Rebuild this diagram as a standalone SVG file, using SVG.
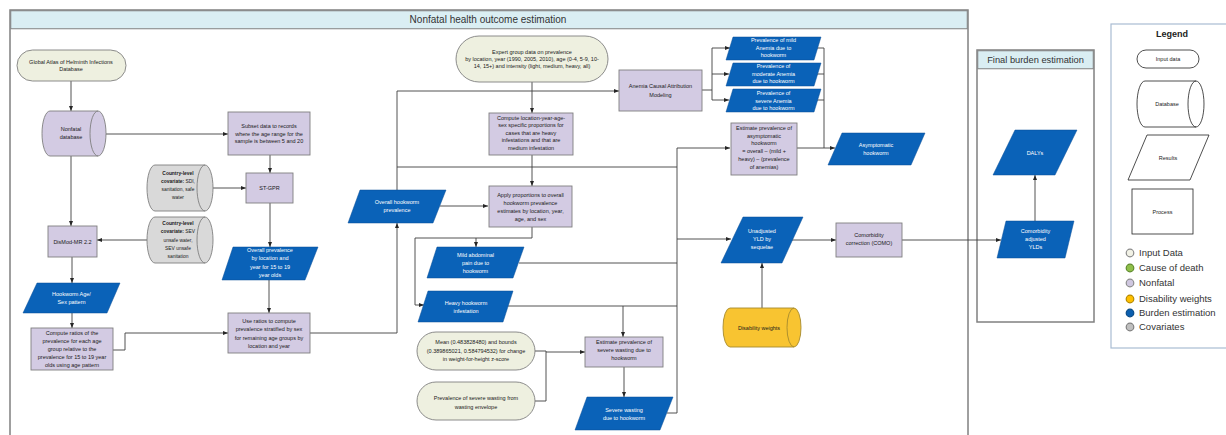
<svg xmlns="http://www.w3.org/2000/svg" width="1226" height="435" viewBox="0 0 1226 435">
<style>
.box{fill:#D3CBE3;stroke:#7F7F7F;stroke-width:0.9}
.inp{fill:#EEF0E0;stroke:#7F7F7F;stroke-width:0.9}
.cov{fill:#D9D9D9;stroke:#7F7F7F;stroke-width:0.9}
.res{fill:#0A62B8;stroke:#0B4F96;stroke-width:0.5}
.dw{fill:#F8C431;stroke:#A68A2E;stroke-width:0.9}
.leg{fill:#fff;stroke:#222;stroke-width:0.8}
.t{font-family:"Liberation Sans",Arial,sans-serif;font-size:5.5px;fill:#1a1a1a;text-anchor:middle}
.ts{font-family:"Liberation Sans",Arial,sans-serif;font-size:4.9px;fill:#1a1a1a;text-anchor:middle}
.tw{font-family:"Liberation Sans",Arial,sans-serif;font-size:5.5px;fill:#fff;text-anchor:middle}
.lt{font-family:"Liberation Sans",Arial,sans-serif;font-size:9.5px;fill:#333}
.c{fill:none;stroke:#3F3F3F;stroke-width:0.9}
</style>
<defs>
<marker id="a" viewBox="0 0 10 10" refX="10" refY="5" markerWidth="5" markerHeight="5" markerUnits="userSpaceOnUse" orient="auto"><path d="M0,1 L10,5 L0,9 z" fill="#262626"/></marker>
</defs>
<rect width="1226" height="435" fill="#fff"/>

<g id="panel-nonfatal">
<rect x="10" y="10" width="958" height="500" fill="#fff" stroke="#808080" stroke-width="1.5"/>
<rect x="10.75" y="10.75" width="956.5" height="18" fill="#DAEEF3" stroke="#808080" stroke-width="1"/>
<text x="488" y="23" style="font-family:'Liberation Sans',Arial,sans-serif;font-size:10px;fill:#333;text-anchor:middle">Nonfatal health outcome estimation</text>
</g>

<g id="panel-final">
<rect x="977" y="50" width="117" height="272" fill="#fff" stroke="#808080" stroke-width="1.5"/>
<rect x="977.75" y="50.75" width="115.5" height="18" fill="#DAEEF3" stroke="#808080" stroke-width="1"/>
<text x="1035.5" y="63" style="font-family:'Liberation Sans',Arial,sans-serif;font-size:9.3px;fill:#333;text-anchor:middle">Final burden estimation</text>
</g>

<g id="connectors">
<path class="c" d="M71,81 V111" marker-end="url(#a)"/>
<path class="c" d="M106,134 H228" marker-end="url(#a)"/>
<path class="c" d="M71,156 V226" marker-end="url(#a)"/>
<path class="c" d="M270,155 V173" marker-end="url(#a)"/>
<path class="c" d="M213,188 H246" marker-end="url(#a)"/>
<path class="c" d="M147,240 H97" marker-end="url(#a)"/>
<path class="c" d="M72,257 V283" marker-end="url(#a)"/>
<path class="c" d="M270,203 V247" marker-end="url(#a)"/>
<path class="c" d="M72,313 V328" marker-end="url(#a)"/>
<path class="c" d="M269,280 V313" marker-end="url(#a)"/>
<path class="c" d="M113,350 H125 V333 H228" marker-end="url(#a)"/>
<path class="c" d="M310,333 H397 V223" marker-end="url(#a)"/>
<path class="c" d="M397,190 V91 H619" marker-end="url(#a)"/>
<path class="c" d="M397,167 H677"/>
<path class="c" d="M440,206 H488" marker-end="url(#a)"/>
<path class="c" d="M532,82 V113" marker-end="url(#a)"/>
<path class="c" d="M532,155 V186" marker-end="url(#a)"/>
<path class="c" d="M532,227 V238 H415 V305 H424" marker-end="url(#a)"/>
<path class="c" d="M476,238 V247" marker-end="url(#a)"/>
<path class="c" d="M519,263 H677"/>
<path class="c" d="M508,306 H677"/>
<path class="c" d="M623,306 V337" marker-end="url(#a)"/>
<path class="c" d="M624,367 V397" marker-end="url(#a)"/>
<path class="c" d="M667,413 H677 V148 H730" marker-end="url(#a)"/>
<path class="c" d="M677,239 H731" marker-end="url(#a)"/>
<path class="c" d="M535,351 H546 V401 H535"/>
<path class="c" d="M546,352 H585" marker-end="url(#a)"/>
<path class="c" d="M702,90 H712"/>
<path class="c" d="M712,48 V100"/>
<path class="c" d="M712,48 H730" marker-end="url(#a)"/>
<path class="c" d="M712,74 H729" marker-end="url(#a)"/>
<path class="c" d="M712,100 H729" marker-end="url(#a)"/>
<path class="c" d="M817,48 H824 V148"/>
<path class="c" d="M817,74 H824"/>
<path class="c" d="M817,100 H824"/>
<path class="c" d="M797,148 H835" marker-end="url(#a)"/>
<path class="c" d="M762,308 V263" marker-end="url(#a)"/>
<path class="c" d="M792,240 H836" marker-end="url(#a)"/>
<path class="c" d="M902,240 H1001" marker-end="url(#a)"/>
<path class="c" d="M1035,221 V175" marker-end="url(#a)"/>
</g>

<g id="n-gahi">
<rect class="inp" x="17" y="50" width="109" height="31" rx="15.5"/>
<text class="t" x="71" y="63.5">Global Atlas of Helminth Infections</text>
<text class="t" x="71" y="71">Database</text>
</g>
<g id="n-nonfatal-db">
<path class="box" d="M50,111 H98 A8,22.5 0 0 1 98,156 H50 A8,22.5 0 0 1 50,111 Z"/>
<path class="c" style="stroke:#7F7F7F" d="M98,111 A8,22.5 0 0 0 98,156"/>
<text class="t" x="71" y="131">Nonfatal</text>
<text class="t" x="71" y="139">database</text>
</g>
<g id="n-subset">
<rect class="box" x="228" y="112" width="82" height="43"/>
<text class="t" x="269" y="128">Subset data to records</text>
<text class="t" x="269" y="135.5">where the age range for the</text>
<text class="t" x="269" y="143">sample is between 5 and 20</text>
</g>
<g id="n-stgpr">
<rect class="box" x="246" y="173" width="47" height="30"/>
<text class="t" x="269.5" y="190">ST-GPR</text>
</g>
<g id="n-cov1">
<path class="cov" d="M155,165 H205 A8,23 0 0 1 205,211 H155 A8,23 0 0 1 155,165 Z"/>
<path class="c" style="stroke:#7F7F7F" d="M205,165 A8,23 0 0 0 205,211"/>
<text class="ts" x="178" y="175" font-weight="bold">Country-level</text>
<text class="ts" x="178" y="183"><tspan font-weight="bold">covariate:</tspan> SDI,</text>
<text class="ts" x="178" y="191">sanitation, safe</text>
<text class="ts" x="178" y="199">water</text>
</g>
<g id="n-cov2">
<path class="cov" d="M155,217 H205 A8,23 0 0 1 205,263 H155 A8,23 0 0 1 155,217 Z"/>
<path class="c" style="stroke:#7F7F7F" d="M205,217 A8,23 0 0 0 205,263"/>
<text class="ts" x="178" y="225" font-weight="bold">Country-level</text>
<text class="ts" x="178" y="233.3"><tspan font-weight="bold">covariate:</tspan> SEV</text>
<text class="ts" x="178" y="241.6">unsafe water,</text>
<text class="ts" x="178" y="249.9">SEV unsafe</text>
<text class="ts" x="178" y="258.2">sanitation</text>
</g>
<g id="n-dismod">
<rect class="box" x="48" y="226" width="49" height="31"/>
<text class="t" x="72.5" y="243.5">DisMod-MR 2.2</text>
</g>
<g id="n-agesex">
<polygon class="res" points="37,283 120,283 107,313 23,313"/>
<text class="tw" x="71.5" y="296">Hookworm Age/</text>
<text class="tw" x="71.5" y="304">Sex pattern</text>
</g>
<g id="n-ratios">
<rect class="box" x="31" y="328" width="82" height="42"/>
<text class="t" x="72" y="334.5">Compute ratios of the</text>
<text class="t" x="72" y="342.5">prevalence for each age</text>
<text class="t" x="72" y="350.5">group relative to the</text>
<text class="t" x="72" y="358.5">prevalence for 15 to 19 year</text>
<text class="t" x="72" y="366.5">olds using age pattern</text>
</g>
<g id="n-overall-1519">
<polygon class="res" points="233,247 318,247 305,280 222,280"/>
<text class="tw" x="270" y="252">Overall prevalence</text>
<text class="tw" x="270" y="260.3">by location and</text>
<text class="tw" x="270" y="268.6">year for 15 to 19</text>
<text class="tw" x="270" y="276.9">year olds</text>
</g>
<g id="n-useratios">
<rect class="box" x="228" y="313" width="82" height="40"/>
<text class="t" x="269" y="323">Use ratios to compute</text>
<text class="t" x="269" y="331.3">prevalence stratified by sex</text>
<text class="t" x="269" y="339.6">for remaining age groups by</text>
<text class="t" x="269" y="347.9">location and year</text>
</g>
<g id="n-overall-hw">
<polygon class="res" points="360,190 446,190 433,223 348,223"/>
<text class="tw" x="397" y="204">Overall hookworm</text>
<text class="tw" x="397" y="212">prevalence</text>
</g>
<g id="n-expert">
<rect class="inp" x="456" y="36" width="152" height="46" rx="23"/>
<text class="t" x="532" y="53.5">Expert group data on prevalence</text>
<text class="t" x="532" y="60.5">by location, year (1990, 2005, 2010), age (0-4, 5-9, 10-</text>
<text class="t" x="532" y="67.5">14, 15+) and intensity (light, medium, heavy, all)</text>
</g>
<g id="n-computeloc">
<rect class="box" x="489" y="113" width="84" height="42"/>
<text class="t" x="531" y="119.5">Compute location-year-age-</text>
<text class="t" x="531" y="127">sex specific proportions for</text>
<text class="t" x="531" y="134.5">cases that are heavy</text>
<text class="t" x="531" y="142">infestations and that are</text>
<text class="t" x="531" y="149.5">medium infestation</text>
</g>
<g id="n-apply">
<rect class="box" x="489" y="186" width="83" height="41"/>
<text class="t" x="530.5" y="196.5">Apply proportions to overall</text>
<text class="t" x="530.5" y="204.5">hookworm prevalence</text>
<text class="t" x="530.5" y="212.5">estimates by location, year,</text>
<text class="t" x="530.5" y="220.5">age, and sex</text>
</g>
<g id="n-mild-abd">
<polygon class="res" points="437,247 524,247 513,278 427,278"/>
<text class="tw" x="475.5" y="257">Mild abdominal</text>
<text class="tw" x="475.5" y="265">pain due to</text>
<text class="tw" x="475.5" y="273">hookworm</text>
</g>
<g id="n-heavy">
<polygon class="res" points="428,291 513,291 503,322 418,322"/>
<text class="tw" x="466" y="305">Heavy hookworm</text>
<text class="tw" x="466" y="312.5">infestation</text>
</g>
<g id="n-mean">
<rect class="inp" x="417" y="332" width="118" height="38" rx="19"/>
<text class="t" x="476" y="344">Mean (0.483828480)  and bounds</text>
<text class="t" x="476" y="352.5">(0.389865021, 0.584794532) for change</text>
<text class="t" x="476" y="361">in weight-for-height z-score</text>
</g>
<g id="n-wasting-env">
<rect class="inp" x="417" y="382" width="118" height="38" rx="19"/>
<text class="t" x="476" y="400">Prevalence of severe wasting from</text>
<text class="t" x="476" y="408.5">wasting envelope</text>
</g>
<g id="n-est-wasting">
<rect class="box" x="585" y="337" width="78" height="30"/>
<text class="t" x="624" y="344">Estimate prevalence of</text>
<text class="t" x="624" y="352">severe wasting due to</text>
<text class="t" x="624" y="360">hookworm</text>
</g>
<g id="n-sev-wasting">
<polygon class="res" points="587,397 673,397 660,430 575,430"/>
<text class="tw" x="624" y="412">Severe wasting</text>
<text class="tw" x="624" y="419.5">due to hookworm</text>
</g>
<g id="n-anemia-cam">
<rect class="box" x="619" y="70" width="83" height="41"/>
<text class="t" x="660.5" y="88">Anemia Causal Attribution</text>
<text class="t" x="660.5" y="96.5">Modeling</text>
</g>
<g id="n-anemia-mild">
<polygon class="res" points="733,37 821,37 814,60 726,60"/>
<text class="tw" x="773.5" y="41.5">Prevalence of mild</text>
<text class="tw" x="773.5" y="49.5">Anemia due to</text>
<text class="tw" x="773.5" y="57">hookworm</text>
</g>
<g id="n-anemia-mod">
<polygon class="res" points="733,63 821,63 814,86 726,86"/>
<text class="tw" x="773.5" y="68">Prevalence of</text>
<text class="tw" x="773.5" y="75.5">moderate Anemia</text>
<text class="tw" x="773.5" y="83">due to hookworm</text>
</g>
<g id="n-anemia-sev">
<polygon class="res" points="733,89 821,89 814,112 726,112"/>
<text class="tw" x="773.5" y="95">Prevalence of</text>
<text class="tw" x="773.5" y="102.5">severe Anemia</text>
<text class="tw" x="773.5" y="110">due to hookworm</text>
</g>
<g id="n-est-asym">
<rect class="box" x="731" y="123" width="66" height="52"/>
<text class="t" x="764" y="130">Estimate prevalence of</text>
<text class="t" x="764" y="137.7">asymptomatic</text>
<text class="t" x="764" y="145.4">hookworm</text>
<text class="t" x="764" y="153.1">= overall – (mild +</text>
<text class="t" x="764" y="160.8">heavy) – (prevalence</text>
<text class="t" x="764" y="168.5">of anemias)</text>
</g>
<g id="n-asym">
<polygon class="res" points="842,133 925,133 911,165 828,165"/>
<text class="tw" x="876" y="147">Asymptomatic</text>
<text class="tw" x="876" y="155">hookworm</text>
</g>
<g id="n-unadj">
<polygon class="res" points="743,217 803,217 782,263 721,263"/>
<text class="tw" x="762" y="233">Unadjusted</text>
<text class="tw" x="762" y="241">YLD by</text>
<text class="tw" x="762" y="249">sequelae</text>
</g>
<g id="n-dw">
<path class="dw" d="M730,308 H794 A7,19.5 0 0 1 794,347 H730 A7,19.5 0 0 1 730,308 Z"/>
<path class="c" style="stroke:#A68A2E" d="M794,308 A7,19.5 0 0 0 794,347"/>
<text class="t" x="759" y="329.5">Disability weights</text>
</g>
<g id="n-como">
<rect class="box" x="836" y="223" width="66" height="34"/>
<text class="t" x="869" y="237">Comorbidity</text>
<text class="t" x="869" y="245">correction (COMO)</text>
</g>
<g id="n-como-adj">
<polygon class="res" points="1006,221 1074,221 1065,258 997,258"/>
<text class="tw" x="1035.5" y="233">Comorbidity</text>
<text class="tw" x="1035.5" y="241">adjusted</text>
<text class="tw" x="1035.5" y="249">YLDs</text>
</g>
<g id="n-dalys">
<polygon class="res" points="1015,130 1077,130 1055,175 993,175"/>
<text class="tw" x="1035" y="155">DALYs</text>
</g>

<g id="legend">
<rect x="1111" y="24" width="125" height="324" fill="#fff" stroke="#A9BCD3" stroke-width="1.2"/>
<text x="1172" y="37" style="font-family:'Liberation Sans',Arial,sans-serif;font-size:9px;font-weight:bold;fill:#222;text-anchor:middle">Legend</text>
<rect class="leg" x="1137" y="50" width="62" height="18" rx="9"/>
<text class="t" x="1168" y="61">Input data</text>
<path class="leg" d="M1145,81 H1196 A8,23 0 0 1 1196,127 H1145 A8,23 0 0 1 1145,81 Z"/>
<path class="c" style="stroke:#222;stroke-width:0.8" d="M1196,81 A8,23 0 0 0 1196,127"/>
<text class="t" x="1167" y="105.5">Database</text>
<polygon class="leg" points="1147,135 1209,135 1190,180 1128,180"/>
<text class="t" x="1168" y="159.5">Results</text>
<rect class="leg" x="1132" y="189" width="61" height="45"/>
<text class="t" x="1162.5" y="213.5">Process</text>
<circle cx="1130" cy="253" r="3.8" fill="#F2F2E6" stroke="#8C8C8C" stroke-width="1.2"/>
<text class="lt" x="1139" y="256.3">Input Data</text>
<circle cx="1130" cy="268" r="3.8" fill="#8FBF4A" stroke="#5E8A2E" stroke-width="1.2"/>
<text class="lt" x="1139" y="271.3">Cause of death</text>
<circle cx="1130" cy="283" r="3.8" fill="#CFC7E0" stroke="#8C8C8C" stroke-width="1.2"/>
<text class="lt" x="1139" y="286.3">Nonfatal</text>
<circle cx="1130" cy="299" r="3.8" fill="#FFC000" stroke="#B38700" stroke-width="1.2"/>
<text class="lt" x="1139" y="302.3">Disability weights</text>
<circle cx="1130" cy="313" r="3.8" fill="#0B5FAF" stroke="#0A4A85" stroke-width="1.2"/>
<text class="lt" x="1139" y="316.3">Burden estimation</text>
<circle cx="1130" cy="327" r="3.8" fill="#BFBFBF" stroke="#7F7F7F" stroke-width="1.2"/>
<text class="lt" x="1139" y="330.3">Covariates</text>
</g>
</svg>
